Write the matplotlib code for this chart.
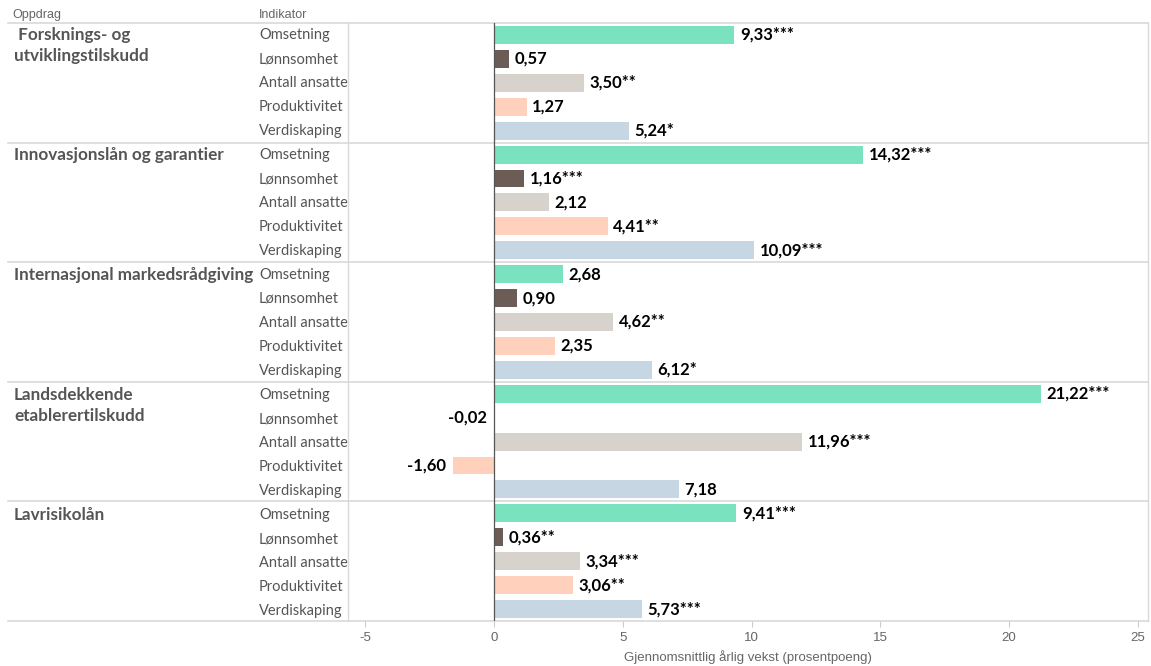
import matplotlib
matplotlib.use("Agg")
import matplotlib.pyplot as plt
import matplotlib.transforms as mtransforms

groups = [" Forsknings- og\nutviklingstilskudd", "Innovasjonslån og garantier",
          "Internasjonal markedsrådgiving", "Landsdekkende\netablerertilskudd", "Lavrisikolån"]
indicators = ["Omsetning", "Lønnsomhet", "Antall ansatte", "Produktivitet", "Verdiskaping"]
values = [
    [9.33, 0.57, 3.50, 1.27, 5.24],
    [14.32, 1.16, 2.12, 4.41, 10.09],
    [2.68, 0.90, 4.62, 2.35, 6.12],
    [21.22, -0.02, 11.96, -1.60, 7.18],
    [9.41, 0.36, 3.34, 3.06, 5.73],
]
stars = [
    ["***", "", "**", "", "*"],
    ["***", "***", "", "**", "***"],
    ["", "", "**", "", "*"],
    ["***", "", "***", "", ""],
    ["***", "**", "***", "**", "***"],
]
colors = ["#7BE2C0", "#6B5D55", "#D7D2CC", "#FFD0BB", "#C6D6E2"]
xticks = [-5, 0, 5, 10, 15, 20, 25]

W, H = 1151, 666
fig = plt.figure(figsize=(W / 100, H / 100), dpi=100)
ax = fig.add_axes([348 / W, 1 - 621 / H, (1148 - 348) / W, (621 - 23) / H])

n_ind = len(indicators)
n = len(groups) * n_ind
ax.set_ylim(n - 0.5, -0.5)
ax.set_xlim(-5.67, 25.39)

label_font = "Lato"
for g, grp in enumerate(groups):
    for i, ind in enumerate(indicators):
        y = g * n_ind + i
        v = values[g][i]
        ax.barh(y, v, height=0.75, color=colors[i], zorder=2)
        txt = f"{v:.2f}".replace(".", ",") + stars[g][i]
        if v >= 0:
            ax.annotate(txt, (v, y), xytext=(4, 0), textcoords="offset points",
                        ha="left", va="center", fontsize=12, fontweight="bold",
                        family=label_font, color="black")
        else:
            ax.annotate(txt, (v, y), xytext=(-5, 0), textcoords="offset points",
                        ha="right", va="center", fontsize=12, fontweight="bold",
                        family=label_font, color="black")

ax.axvline(0, color="#555555", lw=0.9, zorder=3)

for s in ["top", "left", "right", "bottom"]:
    ax.spines[s].set_visible(False)
ax.set_yticks([])
ax.set_xticks(xticks)
ax.set_xticklabels([str(t) for t in xticks], fontsize=9.5, color="#666666", family="Liberation Sans")
ax.tick_params(axis="x", length=4, color="#CCCCCC", pad=4)
ax.set_xlabel("Gjennomsnittlig årlig vekst (prosentpoeng)", fontsize=9.5, color="#666666",
              family="Liberation Sans", labelpad=4)

# frame lines
line_col = "#D9D9D9"
left_ext = (8 - 348) / (1148 - 348)
trans = mtransforms.blended_transform_factory(ax.transAxes, ax.transData)
for g in range(len(groups) + 1):
    yb = g * n_ind - 0.5
    ax.plot([left_ext, 1], [yb, yb], transform=trans, color=line_col, lw=1.2, clip_on=False, zorder=1)
ax.plot([0, 0], [-0.5, n - 0.5], transform=trans, color=line_col, lw=1, clip_on=False)
ax.plot([1, 1], [-0.5, n - 0.5], transform=trans, color=line_col, lw=1, clip_on=False)

# text labels
def fx(px):
    return px / W

def fy(px):
    return 1 - px / H

for g, grp in enumerate(groups):
    for i, ind in enumerate(indicators):
        yc = 35 + 24 * (g * n_ind + i)
        fig.text(fx(259), fy(yc), ind, ha="left", va="center", fontsize=10.5,
                 color="#555555", family=label_font)
    ytop = 35 + 24 * g * n_ind
    for k, line in enumerate(grp.split("\n")):
        fig.text(fx(14), fy(ytop + 21 * k), line, ha="left", va="center", fontsize=12.3,
                 fontweight="bold", color="#555555", family=label_font)

fig.text(fx(12), fy(15), "Oppdrag", ha="left", va="center", fontsize=9, color="#666666",
         family="Liberation Sans")
fig.text(fx(259), fy(15), "Indikator", ha="left", va="center", fontsize=9, color="#666666",
         family="Liberation Sans")

fig.savefig("out.png", dpi=100, facecolor="white")
